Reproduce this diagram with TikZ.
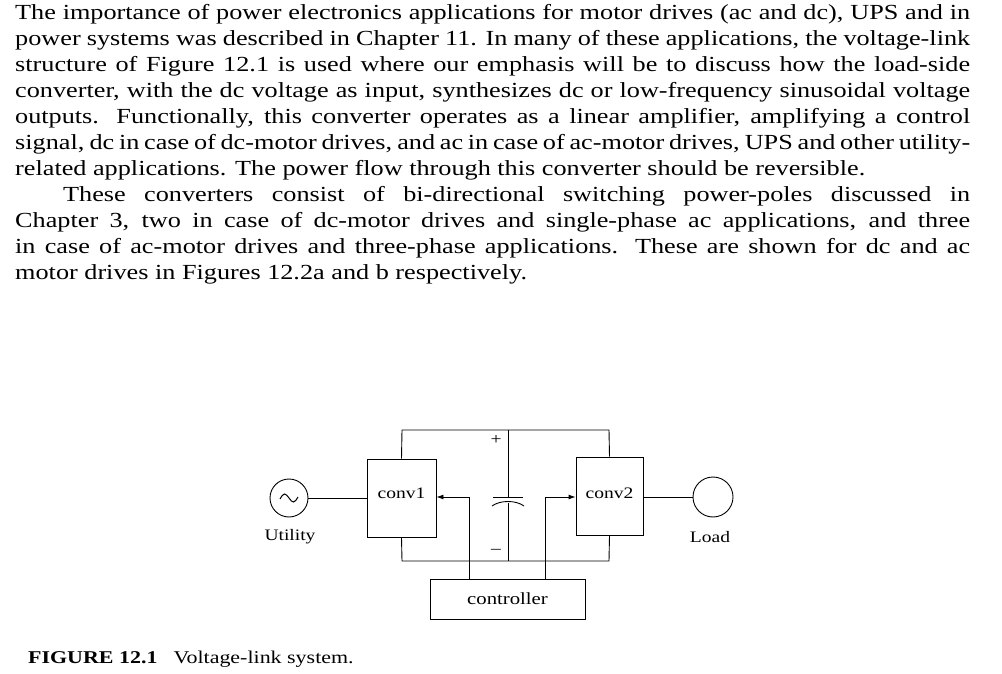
\documentclass[tikz,border=0pt]{standalone}
\usepackage{fontspec}
\setmainfont[FakeStretch=1.22]{Liberation Serif}
\usetikzlibrary{arrows.meta}
\newcommand{\jl}[1]{\makebox[955pt][s]{#1}}
\begin{document}
\begin{tikzpicture}[x=1pt,y=-1pt,
  ln/.style={anchor=west,inner sep=0pt,font=\fontsize{21.5}{24}\selectfont},
  box/.style={draw,line width=0.9pt,inner sep=0pt},
  wire/.style={line width=0.9pt},
  lab/.style={font=\fontsize{16}{18}\selectfont,inner sep=0pt},
  arr/.style={wire,-{Latex[length=7pt,width=5pt]}}]
\useasboundingbox (0,0) rectangle (1002,674);
\node[ln] (l1) at (15,14) {\jl{The importance of power electronics applications for motor drives (ac and dc), UPS and in}};
\node[ln] (l2) at (15,40) {\jl{power systems was described in Chapter 11. In many of these applications, the voltage-link}};
\node[ln] (l3) at (15,66) {\jl{structure of Figure 12.1 is used where our emphasis will be to discuss how the load-side}};
\node[ln] (l4) at (15,92) {\jl{converter, with the dc voltage as input, synthesizes dc or low-frequency sinusoidal voltage}};
\node[ln] (l5) at (15,118) {\jl{outputs. Functionally, this converter operates as a linear amplifier, amplifying a control}};
\node[ln] (l6) at (15,144) {\jl{signal, dc in case of dc-motor drives, and ac in case of ac-motor drives, UPS and other utility-}};
\node[ln] (l7) at (15,170) {related applications. The power flow through this converter should be reversible.};
\node[ln] (l8) at (63,196) {\makebox[907pt][s]{These converters consist of bi-directional switching power-poles discussed in}};
\node[ln] (l9) at (15,222) {\jl{Chapter 3, two in case of dc-motor drives and single-phase ac applications, and three}};
\node[ln] (l10) at (15,248) {\jl{in case of ac-motor drives and three-phase applications. These are shown for dc and ac}};
\node[ln] (l11) at (15,274) {motor drives in Figures 12.2a and b respectively.};
\node[ln,font=\fontsize{18}{20}\selectfont] (cap) at (28,659) {\textbf{FIGURE 12.1}\hspace{16pt}Voltage-link system.};

% diagram
\node[box,minimum width=69pt,minimum height=78pt] (c1) at (401.5,498) {};
\node[lab] at (401.5,493) {conv1};
\node[box,minimum width=67pt,minimum height=78pt] (c2) at (609.5,496) {};
\node[lab] at (609.5,493) {conv2};
\node[box,minimum width=155pt,minimum height=40pt] (ctl) at (507.5,599) {};
\node[lab,font=\fontsize{17}{19}\selectfont] at (507.5,599) {controller};
\node[draw,circle,line width=0.9pt,minimum size=38pt,inner sep=0pt] (src) at (289,498) {};
\draw[line width=1pt] (280,499) sin (284.5,494) cos (289,498) sin (293.5,502) cos (298,497);
\node[draw,circle,line width=0.9pt,minimum size=40pt,inner sep=0pt] (load) at (713,497) {};
\node[lab] at (290,537) {Utility};
\node[lab] at (710,537) {Load};
\draw[wire] (src.east) -- (src.east -| c1.west);
\draw[wire] (c2.east |- load.west) -- (load.west);
\coordinate (pt) at (508,497);
\coordinate (pb) at (508,503);
\draw[wire] (c1.north) -- (402,430) -- (609,430) -- (c2.north);
\draw[wire] (c1.south) -- (402,561) -- (609,561) -- (c2.south);
\draw[wire] (508,430) -- (pt);
\draw[wire] (pb) -- (508,561);
\draw[wire] (493,497) -- (523,497);
\draw[wire] (492,506) .. controls (500,500) and (516,500) .. (524,506);
\node[lab] at (496,440) {+};
\node[lab] at (496,551) {--};
\draw[arr] (469,579) -- (469,497) -- (c1.east |- 0,497);
\draw[arr] (545,579) -- (545,497) -- (c2.west |- 0,497);
\end{tikzpicture}
\end{document}
